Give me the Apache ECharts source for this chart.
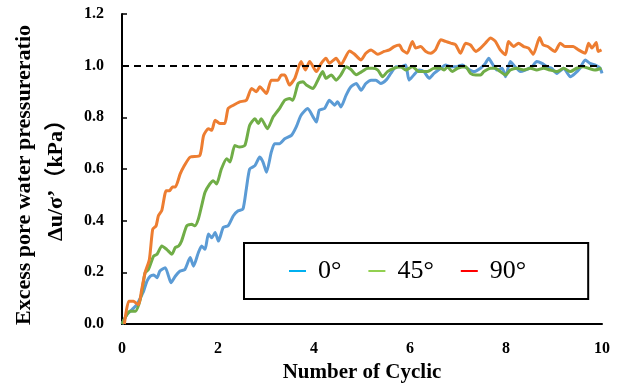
<!DOCTYPE html>
<html>
<head>
<meta charset="utf-8">
<script src="https://cdn.jsdelivr.net/npm/echarts@6/dist/echarts.min.js"></script>
<style>
html,body{margin:0;padding:0;background:#fff;}
#c{width:624px;height:388px;}
</style>
</head>
<body>
<div id="c"></div>
<script>
var seriesNames = ['0°', '45°', '90°'];
var lineColors = ['#5B9BD5', '#70AD47', '#ED7D31'];
var legendColors = ['#00B0F0', '#92D050', '#FF0000'];
var xTicks = [0, 2, 4, 6, 8, 10];
var yTicks = [0, 0.2, 0.4, 0.6, 0.8, 1.0, 1.2];
var referenceLevel = 1.0;

var data0 = [[0,0.0],[0.10,0.036],[0.21,0.056],[0.31,0.075],[0.38,0.10],[0.45,0.127],[0.52,0.166],[0.59,0.185],[0.66,0.19],[0.73,0.179],[0.79,0.205],[0.90,0.218],[0.97,0.185],[1.02,0.16],[1.11,0.185],[1.21,0.205],[1.31,0.211],[1.42,0.257],[1.49,0.224],[1.59,0.276],[1.66,0.302],[1.73,0.289],[1.80,0.348],[1.87,0.334],[1.94,0.354],[2.01,0.321],[2.11,0.374],[2.21,0.38],[2.32,0.419],[2.42,0.438],[2.52,0.445],[2.59,0.523],[2.66,0.60],[2.77,0.613],[2.87,0.646],[2.94,0.626],[3.01,0.587],[3.11,0.665],[3.18,0.698],[3.28,0.698],[3.39,0.717],[3.53,0.73],[3.63,0.763],[3.73,0.808],[3.87,0.834],[3.98,0.802],[4.05,0.782],[4.11,0.828],[4.22,0.834],[4.32,0.866],[4.43,0.847],[4.49,0.86],[4.56,0.840],[4.67,0.886],[4.77,0.918],[4.88,0.931],[4.98,0.905],[5.08,0.931],[5.19,0.944],[5.29,0.944],[5.39,0.931],[5.50,0.944],[5.60,0.970],[5.71,0.996],[5.81,0.996],[5.91,1.003],[5.98,0.944],[6.08,0.964],[6.19,0.983],[6.29,0.977],[6.40,0.951],[6.50,0.97],[6.64,0.99],[6.74,1.003],[6.85,0.996],[6.97,0.996],[7.09,1.003],[7.19,0.99],[7.33,0.977],[7.47,0.99],[7.57,1.009],[7.64,1.029],[7.71,1.009],[7.81,0.983],[7.92,0.99],[7.99,0.957],[8.09,1.016],[8.19,0.996],[8.30,0.977],[8.40,0.983],[8.54,0.996],[8.64,1.016],[8.75,1.009],[8.85,0.996],[8.95,0.99],[9.06,0.97],[9.20,0.99],[9.34,0.957],[9.44,0.97],[9.54,0.99],[9.65,1.022],[9.75,1.009],[9.85,1.003],[9.96,0.99],[10.0,0.97]];

var data45 = [[0,0.0],[0.10,0.036],[0.17,0.049],[0.28,0.049],[0.35,0.075],[0.41,0.12],[0.48,0.198],[0.55,0.211],[0.66,0.263],[0.73,0.27],[0.83,0.302],[0.93,0.289],[1.04,0.27],[1.11,0.296],[1.18,0.302],[1.24,0.321],[1.35,0.38],[1.45,0.386],[1.52,0.38],[1.59,0.406],[1.66,0.458],[1.73,0.51],[1.83,0.542],[1.90,0.555],[1.97,0.542],[2.07,0.60],[2.18,0.64],[2.25,0.627],[2.35,0.691],[2.45,0.685],[2.56,0.691],[2.66,0.769],[2.77,0.795],[2.84,0.776],[2.90,0.795],[3.03,0.756],[3.15,0.802],[3.28,0.834],[3.39,0.866],[3.49,0.873],[3.56,0.866],[3.67,0.931],[3.77,0.938],[3.84,0.925],[3.98,0.912],[4.08,0.944],[4.18,0.977],[4.25,0.951],[4.36,0.964],[4.46,0.944],[4.56,0.964],[4.67,0.996],[4.77,0.985],[4.88,0.965],[4.98,0.975],[5.12,0.99],[5.22,0.99],[5.33,0.983],[5.43,0.957],[5.53,0.977],[5.67,0.99],[5.81,0.996],[5.91,0.983],[6.05,0.996],[6.19,0.977],[6.36,0.977],[6.50,0.99],[6.64,0.99],[6.71,0.983],[6.78,0.996],[6.88,0.977],[6.99,0.99],[7.16,0.996],[7.26,0.97],[7.37,0.964],[7.47,0.964],[7.54,0.977],[7.68,0.99],[7.78,0.99],[7.88,0.977],[7.99,0.964],[8.09,0.983],[8.23,0.99],[8.37,0.983],[8.51,0.99],[8.64,0.983],[8.78,0.99],[8.92,0.983],[9.06,0.977],[9.20,0.99],[9.34,0.977],[9.47,0.99],[9.61,0.996],[9.72,0.99],[9.85,0.983],[9.99,0.99]];

var data90 = [[0.05,0.0],[0.14,0.088],[0.24,0.088],[0.30,0.08],[0.35,0.075],[0.41,0.133],[0.48,0.198],[0.57,0.25],[0.64,0.367],[0.71,0.38],[0.76,0.42],[0.83,0.44],[0.92,0.516],[0.99,0.516],[1.05,0.53],[1.11,0.53],[1.21,0.58],[1.28,0.607],[1.42,0.646],[1.62,0.652],[1.70,0.73],[1.80,0.756],[1.87,0.75],[1.94,0.789],[2.04,0.776],[2.14,0.776],[2.21,0.834],[2.32,0.847],[2.45,0.86],[2.59,0.866],[2.70,0.912],[2.80,0.899],[2.87,0.918],[3.01,0.892],[3.11,0.944],[3.25,0.944],[3.32,0.964],[3.39,0.964],[3.49,0.925],[3.60,0.951],[3.73,1.016],[3.82,0.983],[3.91,1.016],[4.05,0.977],[4.15,1.009],[4.25,1.029],[4.32,1.009],[4.46,1.029],[4.56,1.003],[4.74,1.057],[4.84,1.045],[4.98,1.022],[5.08,1.048],[5.19,1.061],[5.33,1.044],[5.46,1.055],[5.57,1.061],[5.67,1.074],[5.78,1.080],[5.84,1.061],[5.94,1.048],[6.05,1.094],[6.12,1.068],[6.22,1.074],[6.33,1.055],[6.43,1.048],[6.53,1.061],[6.64,1.100],[6.74,1.094],[6.85,1.087],[6.95,1.081],[7.05,1.048],[7.16,1.087],[7.26,1.080],[7.37,1.055],[7.47,1.068],[7.57,1.087],[7.68,1.107],[7.78,1.094],[7.88,1.061],[7.99,1.042],[8.05,1.094],[8.16,1.074],[8.26,1.087],[8.37,1.074],[8.47,1.068],[8.57,1.044],[8.70,1.109],[8.77,1.081],[8.87,1.074],[9.02,1.055],[9.13,1.087],[9.23,1.074],[9.40,1.074],[9.51,1.061],[9.65,1.048],[9.72,1.087],[9.79,1.068],[9.88,1.090],[9.92,1.055],[9.99,1.061]];

var seriesData = [data0, data45, data90];

var serif = '"Times New Roman", "Liberation Serif", "DejaVu Serif", "Noto Sans CJK SC", serif';

var chart = echarts.init(document.getElementById('c'), null, {renderer: 'canvas'});

var series = seriesNames.map(function (n, i) {
  var s = {
    name: n,
    type: 'line',
    data: seriesData[i],
    showSymbol: false,
    symbol: 'none',
    smooth: 0.2,
    lineStyle: {color: lineColors[i], width: 3},
    itemStyle: {color: lineColors[i]},
    z: 2 + i,
    animation: false
  };
  if (i === 0) {
    s.markLine = {
      silent: true,
      symbol: 'none',
      label: {show: false},
      lineStyle: {color: '#000', type: [7, 5], width: 2},
      data: [{yAxis: referenceLevel}],
      animation: false
    };
  }
  return s;
});

chart.setOption({
  backgroundColor: '#fff',
  animation: false,
  grid: {left: 120, right: 22, top: 14, bottom: 64, containLabel: false},
  legend: {
    left: 244,
    top: 243,
    orient: 'horizontal',
    padding: [15, 62, 15, 45],
    borderColor: '#000',
    borderWidth: 2,
    itemWidth: 17,
    itemHeight: 2,
    itemGap: 27,
    icon: 'rect',
    textStyle: {fontFamily: serif, fontSize: 26, color: '#000', padding: [0, 0, 0, 7]},
    data: seriesNames.map(function (n, i) {
      return {name: n, icon: 'rect', itemStyle: {color: legendColors[i]}};
    })
  },
  xAxis: {
    type: 'value',
    min: xTicks[0],
    max: xTicks[xTicks.length - 1],
    interval: xTicks[1] - xTicks[0],
    name: 'Number of Cyclic',
    nameLocation: 'middle',
    nameGap: 38,
    nameTextStyle: {fontFamily: serif, fontSize: 21, fontWeight: 'bold', color: '#000'},
    axisLine: {show: true, lineStyle: {color: '#000', width: 2}},
    axisTick: {show: false},
    splitLine: {show: false},
    axisLabel: {fontFamily: serif, fontSize: 16, fontWeight: 'bold', color: '#000', margin: 17}
  },
  yAxis: {
    type: 'value',
    min: yTicks[0],
    max: yTicks[yTicks.length - 1],
    interval: 0.2,
    name: 'Excess pore water pressureratio\nΔu/σ’（kPa）',
    nameLocation: 'middle',
    nameRotate: 90,
    nameGap: 50,
    nameTextStyle: {fontFamily: serif, fontSize: 22, fontWeight: 'bold', color: '#000', lineHeight: 32, align: 'center', padding: [0, 12, 0, 0]},
    axisLine: {show: true, lineStyle: {color: '#000', width: 2}},
    axisTick: {show: true, inside: true, length: 5, lineStyle: {color: '#000', width: 1.5}},
    splitLine: {show: false},
    axisLabel: {fontFamily: serif, fontSize: 16, fontWeight: 'bold', color: '#000', margin: 18,
      formatter: function (v) { return v.toFixed(1); }}
  },
  series: series
});
</script>
</body>
</html>
